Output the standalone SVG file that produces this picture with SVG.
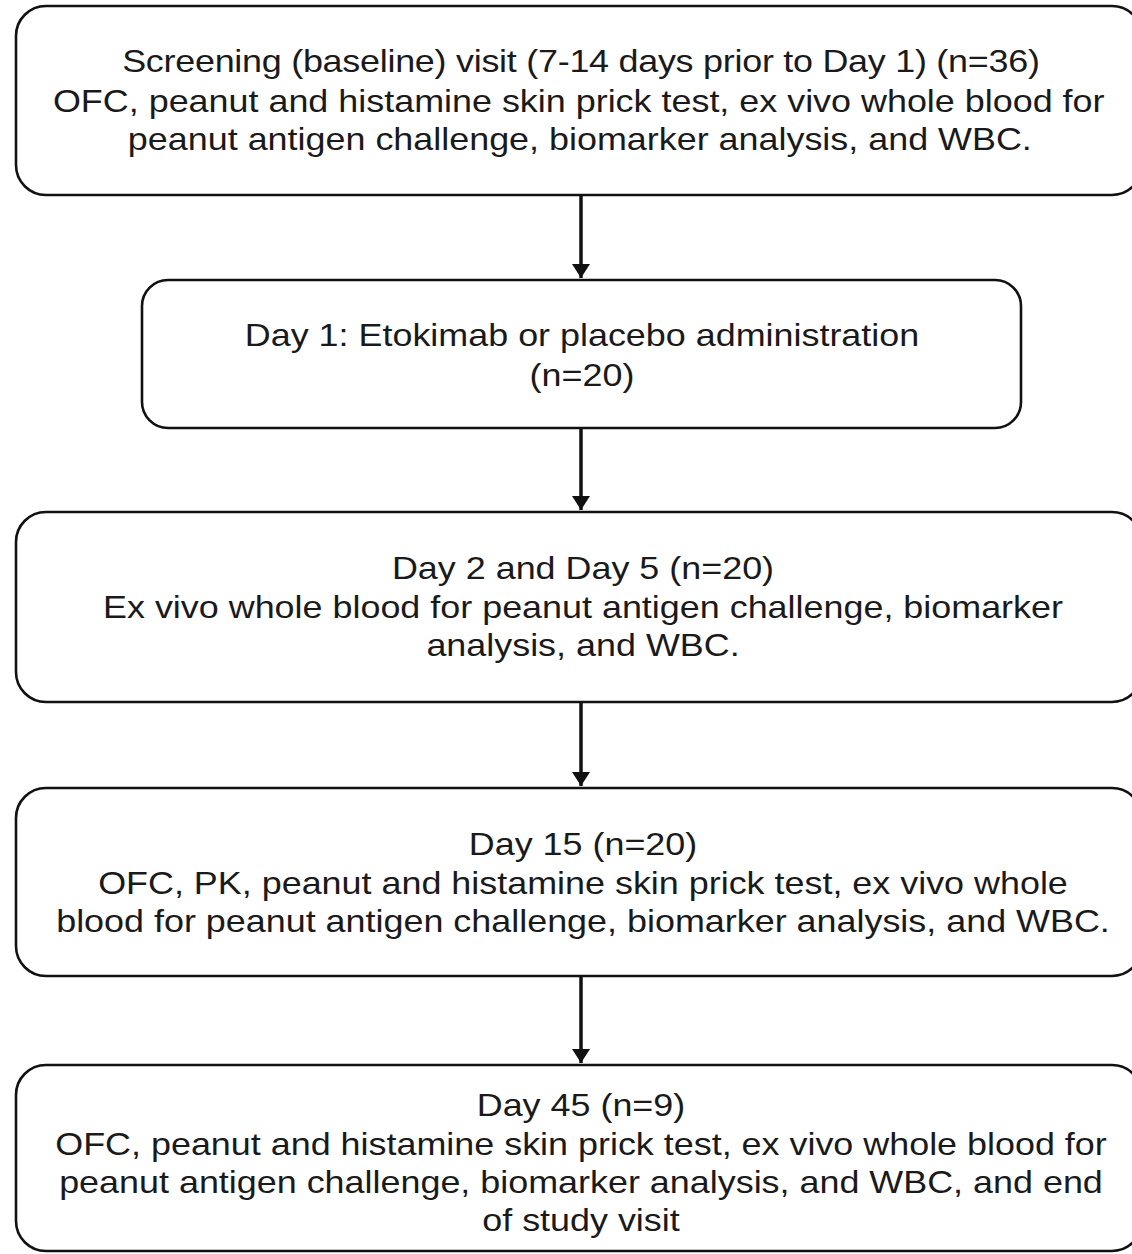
<svg xmlns="http://www.w3.org/2000/svg" width="1132" height="1254" viewBox="0 0 1132 1254">
<defs>
<style>
.box{fill:#fff;stroke:#111;stroke-width:2.6}
.t{font-family:"Liberation Sans",Arial,Helvetica,sans-serif;font-size:31.5px;fill:#1a1a1a;text-anchor:middle}
.c{stroke:#111;stroke-width:3.5;fill:none}
</style>
<marker id="ah" viewBox="0 0 14 18" refX="14" refY="9" markerWidth="14" markerHeight="18" orient="auto" markerUnits="userSpaceOnUse">
<path d="M0,0 L14,9 L0,18 z" fill="#111"/>
</marker>
</defs>
<rect width="1132" height="1254" fill="#fff"/>
<g id="connectors">
<line class="c" x1="581" y1="196" x2="581" y2="278" marker-end="url(#ah)"/>
<line class="c" x1="581" y1="429" x2="581" y2="510" marker-end="url(#ah)"/>
<line class="c" x1="581" y1="703" x2="581" y2="786" marker-end="url(#ah)"/>
<line class="c" x1="581" y1="977" x2="581" y2="1063" marker-end="url(#ah)"/>
</g>
<g id="screening">
<rect class="box" x="16" y="6" width="1126" height="189" rx="30"/>
<g transform="matrix(1.14,0,0,1,-81.34,0)">
<text class="t" x="581" y="72" textLength="805">Screening (baseline) visit (7-14 days prior to Day 1) (n=36)</text>
<text class="t" x="579" y="112">OFC, peanut and histamine skin prick test, ex vivo whole blood for</text>
<text class="t" x="580" y="150">peanut antigen challenge, biomarker analysis, and WBC.</text>
</g>
</g>
<g id="day1">
<rect class="box" x="142" y="280" width="879" height="148" rx="26"/>
<g transform="matrix(1.14,0,0,1,-81.48,0)">
<text class="t" x="582" y="346">Day 1: Etokimab or placebo administration</text>
<text class="t" x="582" y="386">(n=20)</text>
</g>
</g>
<g id="day2-5">
<rect class="box" x="16" y="512" width="1126" height="190" rx="30"/>
<g transform="matrix(1.14,0,0,1,-81.62,0)">
<text class="t" x="583" y="579">Day 2 and Day 5 (n=20)</text>
<text class="t" x="583" y="618">Ex vivo whole blood for peanut antigen challenge, biomarker</text>
<text class="t" x="583" y="656">analysis, and WBC.</text>
</g>
</g>
<g id="day15">
<rect class="box" x="16" y="788" width="1126" height="188" rx="30"/>
<g transform="matrix(1.14,0,0,1,-81.62,0)">
<text class="t" x="583" y="855">Day 15 (n=20)</text>
<text class="t" x="583" y="894">OFC, PK, peanut and histamine skin prick test, ex vivo whole</text>
<text class="t" x="583" y="932">blood for peanut antigen challenge, biomarker analysis, and WBC.</text>
</g>
</g>
<g id="day45">
<rect class="box" x="16" y="1065" width="1126" height="186" rx="30"/>
<g transform="matrix(1.14,0,0,1,-81.34,0)">
<text class="t" x="581" y="1116">Day 45 (n=9)</text>
<text class="t" x="581" y="1155">OFC, peanut and histamine skin prick test, ex vivo whole blood for</text>
<text class="t" x="581" y="1193">peanut antigen challenge, biomarker analysis, and WBC, and end</text>
<text class="t" x="581" y="1231">of study visit</text>
</g>
</g>
</svg>
